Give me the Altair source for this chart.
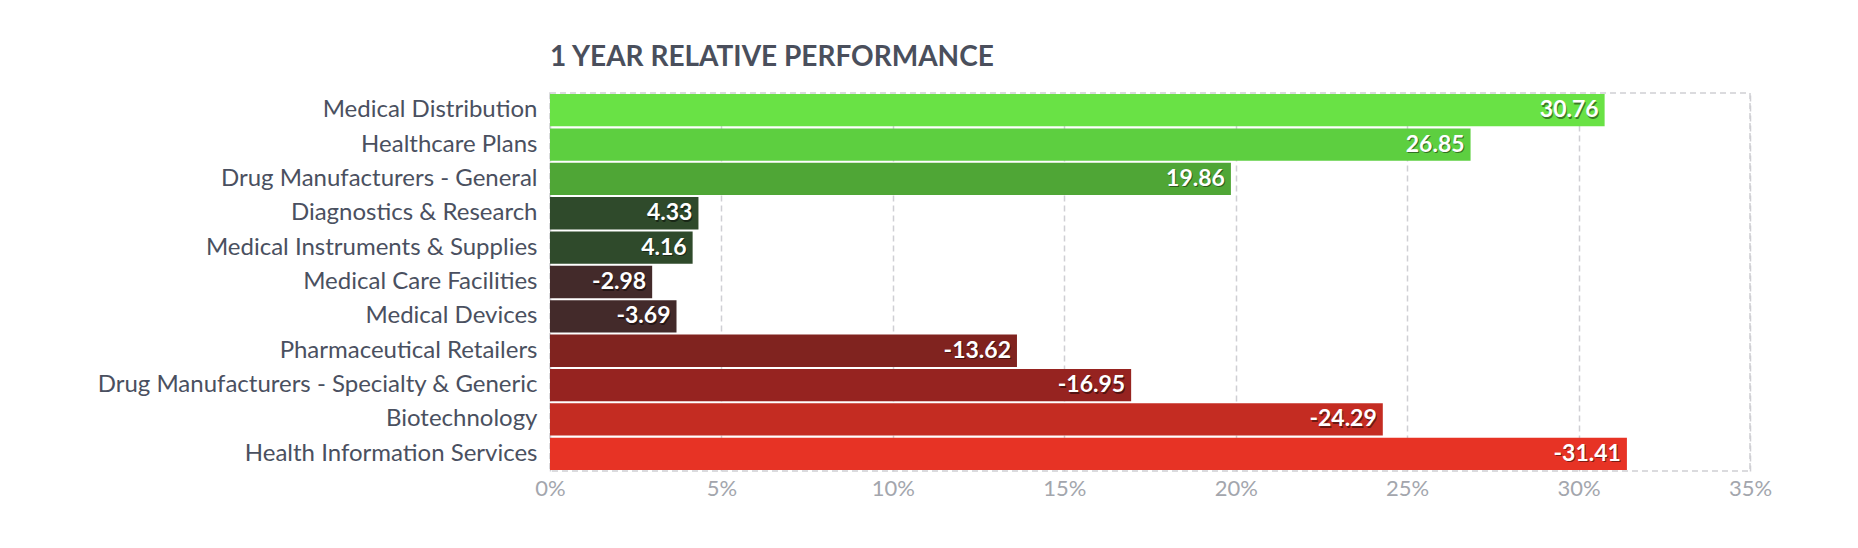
import altair as alt
import pandas as pd

categories = [
    "Medical Distribution",
    "Healthcare Plans",
    "Drug Manufacturers - General",
    "Diagnostics & Research",
    "Medical Instruments & Supplies",
    "Medical Care Facilities",
    "Medical Devices",
    "Pharmaceutical Retailers",
    "Drug Manufacturers - Specialty & Generic",
    "Biotechnology",
    "Health Information Services",
]
values = [30.76, 26.85, 19.86, 4.33, 4.16, -2.98, -3.69, -13.62, -16.95, -24.29, -31.41]
colors = ["#69e245", "#5dcf40", "#4fa636", "#2f4a2b", "#2f4a2b", "#432a2a",
          "#432a2a", "#80231f", "#962320", "#c42c22", "#e73325"]
tick_values = [0, 5, 10, 15, 20, 25, 30, 35]

df = pd.DataFrame({"category": categories, "value": values, "color": colors})
df["magnitude"] = df["value"].abs()
df["label"] = df["value"].map(lambda v: f"{v:.2f}")

y_enc = alt.Y(
    "category:N",
    sort=categories,
    scale=alt.Scale(paddingInner=0.06, paddingOuter=0.03),
    axis=alt.Axis(
        title=None, ticks=False, domain=False, labelFont="Lato", labelFontSize=24,
        labelColor="#4a5060", labelPadding=13, minExtent=542, maxExtent=542, labelLimit=0,
    ),
)
x_enc = alt.X(
    "magnitude:Q",
    scale=alt.Scale(domain=[0, 35], nice=False),
    axis=alt.Axis(
        title=None, values=tick_values, labelExpr="datum.value + '%'", grid=True,
        gridDash=[6, 4], gridColor="#cfcfd4", gridWidth=1.5, ticks=False, domain=False,
        labelFont="Lato", labelFontSize=22, labelColor="#a3a6ad", labelPadding=7,
        labelFlush=False,
    ),
)

bars = alt.Chart(df).mark_bar().encode(
    x=x_enc, y=y_enc, color=alt.Color("color:N", scale=None)
)
shadow = alt.Chart(df).mark_text(
    align="right", baseline="middle", dx=-5, dy=1.5, font="Lato", fontWeight="bold",
    fontSize=23, color="#000000", opacity=0.45,
).encode(x="magnitude:Q", y=alt.Y("category:N", sort=categories), text="label:N")
labels = alt.Chart(df).mark_text(
    align="right", baseline="middle", dx=-6, font="Lato", fontWeight="bold",
    fontSize=23, color="#ffffff",
).encode(x="magnitude:Q", y=alt.Y("category:N", sort=categories), text="label:N")

chart = (
    alt.layer(bars, shadow, labels)
    .properties(
        width=1200,
        height=378,
        padding={"top": 36, "left": 0, "right": 20, "bottom": 10},
        title=alt.TitleParams(
            "1 YEAR RELATIVE PERFORMANCE", anchor="start", frame="group", font="Lato",
            fontSize=28, fontWeight="bold", color="#4a4f5c", offset=21,
        ),
    )
    .configure_view(stroke="#cfcfd4", strokeDash=[6, 4], strokeWidth=1.5)
)

chart.save("out.html", embed_options={"renderer": "svg", "actions": False})
